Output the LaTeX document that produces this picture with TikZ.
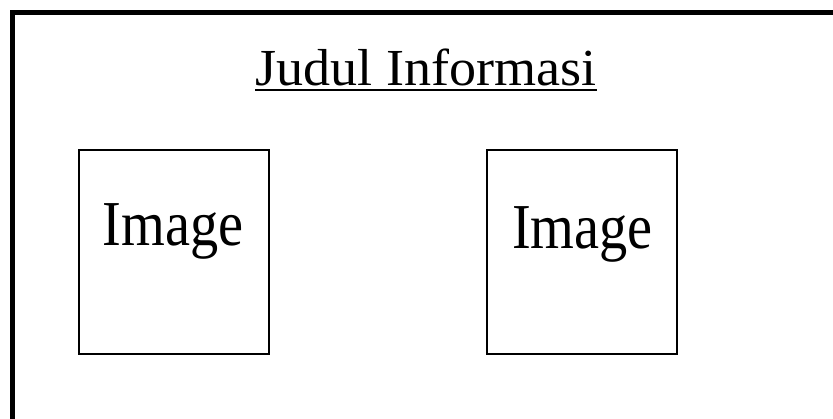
\documentclass[tikz,border=0pt]{standalone}
\usepackage{graphicx}
\usepackage{fontspec}
\setmainfont{Liberation Serif}
\tikzset{
  imgbox/.style={draw=black, line width=2pt, minimum width=190pt, minimum height=204pt, inner sep=0pt},
  imglabel/.style={inner sep=0pt, anchor=base, font=\fontsize{64}{72}\selectfont},
  titlelabel/.style={inner sep=0pt, anchor=base, font=\fontsize{52}{60}\selectfont},
  frameline/.style={line width=5pt}
}
\begin{document}
\begin{tikzpicture}[x=1pt,y=-1pt]
\useasboundingbox (0,0) rectangle (833,418);
\clip (0,0) rectangle (833,418);
\fill[white] (0,0) rectangle (833,418);
\coordinate (fbl) at (12.5,440);
\coordinate (ftl) at (12.5,12.5);
\coordinate (ftr) at (860,12.5);
\draw[frameline] (fbl) -- (ftl) -- (ftr);
\node[titlelabel] (title) at (426,85) {\scalebox{1.04}[1]{Judul Informasi}};
\draw[line width=2pt] ([yshift=-5pt]title.base west) -- ([yshift=-5pt]title.base east);
\node[imgbox] (boxL) at (173.5,252) {};
\node[imgbox] (boxR) at (582,252) {};
\node[imglabel] (imgL) at (173,245) {\scalebox{0.88}[1]{Image}};
\node[imglabel] (imgR) at (582.5,248) {\scalebox{0.88}[1]{Image}};
\end{tikzpicture}
\end{document}
